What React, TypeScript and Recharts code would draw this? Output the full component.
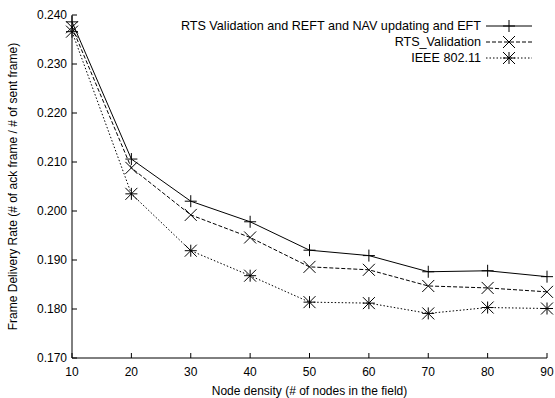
import React from "react";
import { LineChart, Line, XAxis, YAxis } from "recharts";

const nodeDensity = [10, 20, 30, 40, 50, 60, 70, 80, 90];
const rtsRefNavEft = [0.2386, 0.2106, 0.202, 0.1978, 0.192, 0.1909, 0.1876, 0.1878, 0.1866];
const rtsValidation = [0.2375, 0.2088, 0.1992, 0.1946, 0.1886, 0.188, 0.1847, 0.1843, 0.1835];
const ieee80211 = [0.2366, 0.2035, 0.1919, 0.1868, 0.1814, 0.1812, 0.1791, 0.1803, 0.1801];

const xTicks = [10, 20, 30, 40, 50, 60, 70, 80, 90];
const yTicks = [0.17, 0.18, 0.19, 0.2, 0.21, 0.22, 0.23, 0.24];

const seriesNames = [
  "RTS Validation and REFT and NAV updating and EFT",
  "RTS_Validation",
  "IEEE 802.11",
];

const rows = nodeDensity.map((x, i) => ({
  x,
  a: rtsRefNavEft[i],
  b: rtsValidation[i],
  c: ieee80211[i],
}));

const FONT = "'Liberation Sans', Arial, Helvetica, sans-serif";
const TICK = 5;
const M = 6; // marker half size

function PlusMark({ cx, cy }: any) {
  return (
    <g stroke="#000" strokeWidth={1}>
      <line x1={cx - M} x2={cx + M} y1={cy} y2={cy} />
      <line x1={cx} x2={cx} y1={cy - M} y2={cy + M} />
    </g>
  );
}

function CrossMark({ cx, cy }: any) {
  return (
    <g stroke="#000" strokeWidth={1}>
      <line x1={cx - M} x2={cx + M} y1={cy - M} y2={cy + M} />
      <line x1={cx - M} x2={cx + M} y1={cy + M} y2={cy - M} />
    </g>
  );
}

function StarMark({ cx, cy }: any) {
  return (
    <g stroke="#000" strokeWidth={1}>
      <line x1={cx - M} x2={cx + M} y1={cy} y2={cy} />
      <line x1={cx} x2={cx} y1={cy - M} y2={cy + M} />
      <line x1={cx - M} x2={cx + M} y1={cy - M} y2={cy + M} />
      <line x1={cx - M} x2={cx + M} y1={cy + M} y2={cy - M} />
    </g>
  );
}

function BottomTick({ x, y, payload }: any) {
  return (
    <g>
      <line x1={x} x2={x} y1={y} y2={y - TICK} stroke="#000" />
      <text x={x} y={y + 18} textAnchor="middle" fontSize={12} fontFamily={FONT} fill="#000">
        {payload.value}
      </text>
    </g>
  );
}

function LeftTick({ x, y, payload }: any) {
  return (
    <g>
      <line x1={x} x2={x + TICK} y1={y} y2={y} stroke="#000" />
      <text x={x - 5} y={y + 4.3} textAnchor="end" fontSize={12} fontFamily={FONT} fill="#000">
        {payload.value.toFixed(3)}
      </text>
    </g>
  );
}

function TopTick({ x, y }: any) {
  return <line x1={x} x2={x} y1={y} y2={y + TICK} stroke="#000" />;
}

function RightTick({ x, y }: any) {
  return <line x1={x} x2={x - TICK} y1={y} y2={y} stroke="#000" />;
}

const styles = [
  { dash: undefined, Mark: PlusMark },
  { dash: "4 2", Mark: CrossMark },
  { dash: "1.5 2", Mark: StarMark },
];

export default function App() {
  return (
    <div style={{ position: "absolute", left: 0, top: 0, width: 555, height: 398, background: "#fff" }}>
      <LineChart width={555} height={398} data={rows} margin={{ top: 15, right: 8, bottom: 0, left: 0 }}>
        <XAxis
          xAxisId="b"
          dataKey="x"
          type="number"
          domain={[10, 90]}
          ticks={xTicks}
          height={40}
          tickSize={0}
          tickMargin={0}
          tick={<BottomTick />}
          axisLine={{ stroke: "#000" }}
          label={{
            value: "Node density (# of nodes in the field)",
            position: "insideBottom",
            offset: 3,
            fontSize: 12,
            fontFamily: FONT,
            fill: "#000",
          }}
        />
        <XAxis
          xAxisId="t"
          orientation="top"
          dataKey="x"
          type="number"
          domain={[10, 90]}
          ticks={xTicks}
          height={0}
          tickSize={0}
          tickMargin={0}
          tick={<TopTick />}
          axisLine={{ stroke: "#000" }}
        />
        <YAxis
          yAxisId="l"
          type="number"
          domain={[0.17, 0.24]}
          ticks={yTicks}
          width={72}
          tickSize={0}
          tickMargin={0}
          tick={<LeftTick />}
          axisLine={{ stroke: "#000" }}
          label={(p: any) => {
            const vb = p.viewBox;
            const cx = vb.x + 17;
            const cy = vb.y + vb.height / 2;
            return (
              <text
                x={cx}
                y={cy}
                transform={`rotate(-90 ${cx} ${cy})`}
                textAnchor="middle"
                fontSize={12}
                fontFamily={FONT}
                fill="#000"
              >
                Frame Delivery Rate (# of ack frame / # of sent frame)
              </text>
            );
          }}
        />
        <YAxis
          yAxisId="r"
          orientation="right"
          type="number"
          domain={[0.17, 0.24]}
          ticks={yTicks}
          width={0}
          tickSize={0}
          tickMargin={0}
          tick={<RightTick />}
          axisLine={{ stroke: "#000" }}
        />
        {["a", "b", "c"].map((k, i) => {
          const Mark = styles[i].Mark;
          return (
            <Line
              key={k}
              xAxisId="b"
              yAxisId="l"
              dataKey={k}
              type="linear"
              stroke="#000"
              strokeWidth={1}
              strokeDasharray={styles[i].dash}
              dot={(p: any) => <Mark key={`${k}-${p.index}`} cx={p.cx} cy={p.cy} />}
              activeDot={false}
              isAnimationActive={false}
            />
          );
        })}
      </LineChart>
      <svg width={555} height={398} style={{ position: "absolute", left: 0, top: 0, pointerEvents: "none" }}>
        {seriesNames.map((name, i) => {
          const cy = 26 + i * 16;
          const Mark = styles[i].Mark;
          return (
            <g key={name}>
              <text x={481} y={cy + 4.4} textAnchor="end" fontSize={12.6} fontFamily={FONT} fill="#000">
                {name}
              </text>
              <line x1={486} x2={532} y1={cy} y2={cy} stroke="#000" strokeDasharray={styles[i].dash} />
              <Mark cx={509} cy={cy} />
            </g>
          );
        })}
      </svg>
    </div>
  );
}
